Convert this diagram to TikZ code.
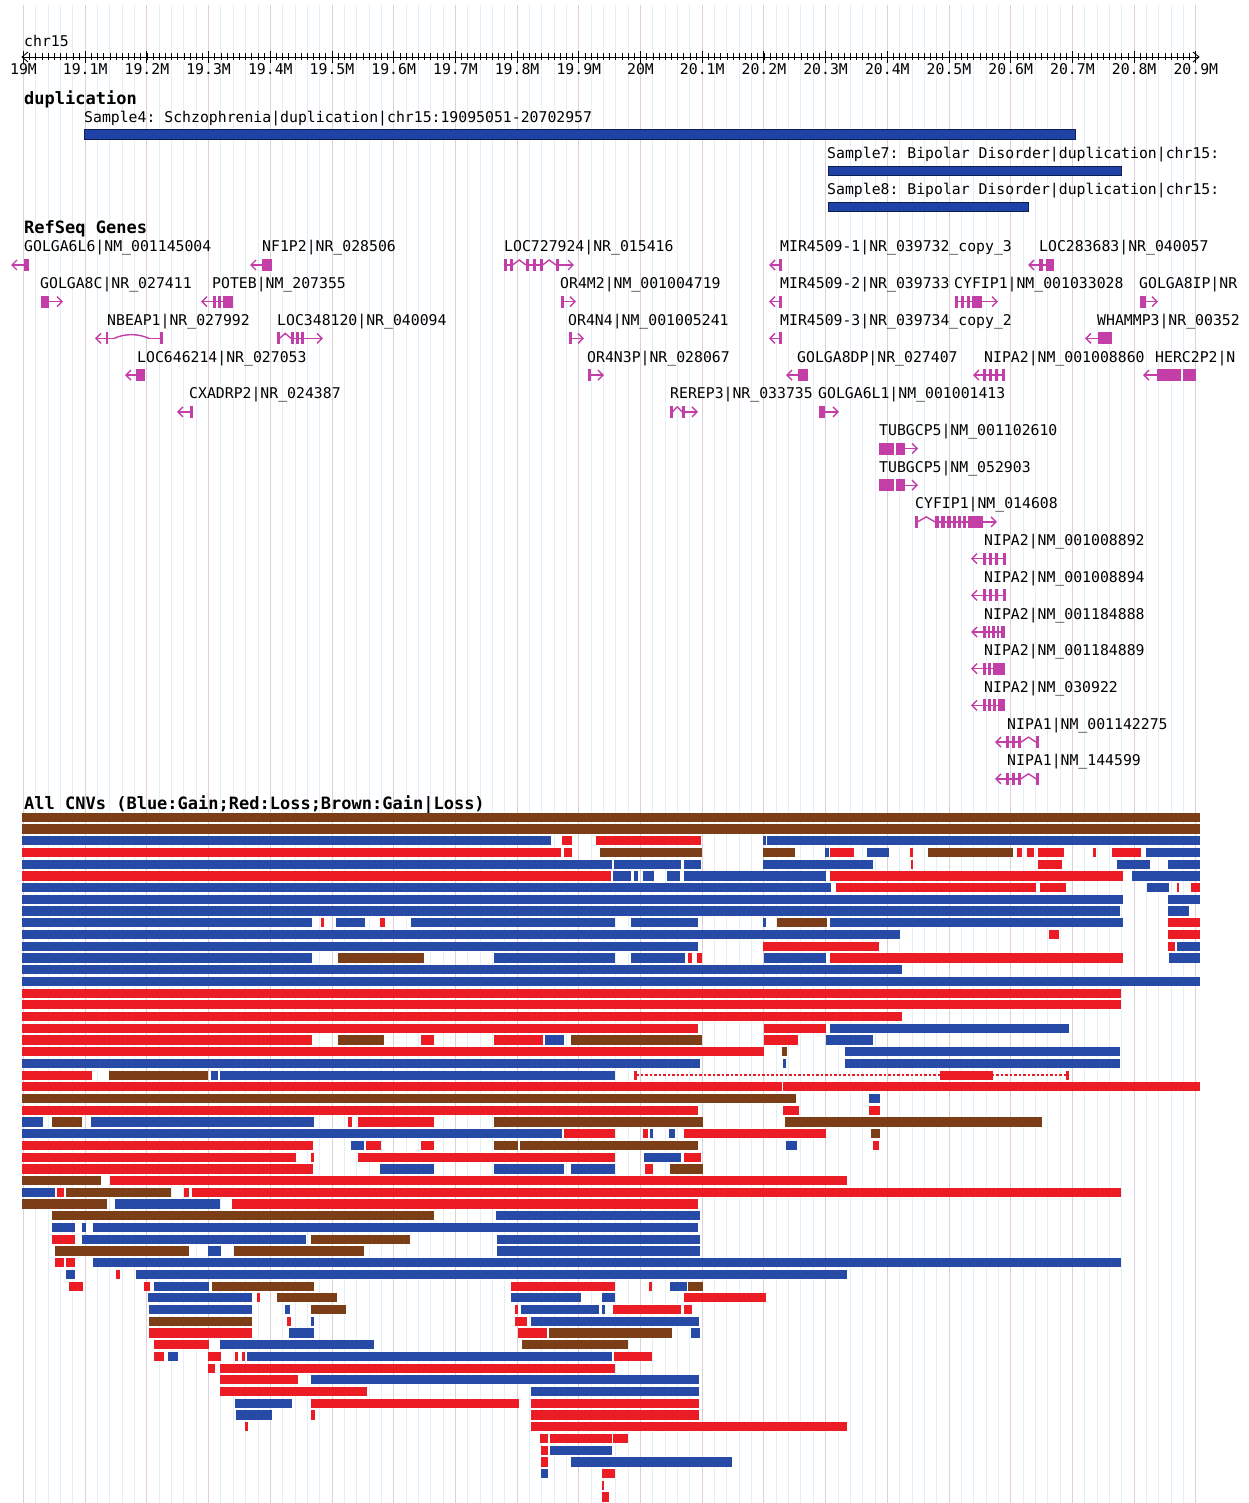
\documentclass[tikz,border=0pt]{standalone}
\usepackage{fontspec}
\newfontfamily\monof{DejaVu Sans Mono}
\newcommand{\gfont}{\monof\fontsize{14.8}{17}\selectfont}
\newcommand{\tfont}{\monof\bfseries\fontsize{17}{20}\selectfont}
\definecolor{cnvB}{RGB}{38,74,165}
\definecolor{cnvR}{RGB}{236,28,36}
\definecolor{cnvN}{RGB}{124,62,22}
\definecolor{dupB}{RGB}{30,66,165}
\definecolor{dupD}{RGB}{15,30,80}
\definecolor{gcol}{RGB}{196,62,168}
\definecolor{gridmaj}{RGB}{218,210,214}
\definecolor{gridmin}{RGB}{226,239,248}
\newcommand{\cnvrow}[2]{%
  \pgfmathsetmacro{\cy}{817.3+11.72*#1}%
  \foreach \xa/\xb/\cc in {#2}{\fill[fill=cnv\cc] (\xa,\cy-4.6) rectangle (\xb,\cy+4.6);}}
\newcommand{\grow}[1]{\pgfmathsetmacro{\gly}{252+36.7*#1}\pgfmathsetmacro{\gy}{265+36.7*#1}}
\newcommand{\gln}[2]{\draw[gline] (#1,\gy) -- (#2,\gy);}
\newcommand{\gex}[2]{\fill[gcol] (#1,\gy-6) rectangle (#2,\gy+6);}
\newcommand{\gla}[1]{\draw[gline] (#1+5,\gy-5) -- (#1,\gy) -- (#1+5,\gy+5);}
\newcommand{\gra}[1]{\draw[gline] (#1-5,\gy-5) -- (#1,\gy) -- (#1-5,\gy+5);}
\newcommand{\ghat}[2]{\draw[gline] (#1,\gy) -- ({(#1+#2)/2},\gy-5) -- (#2,\gy);}
\newcommand{\glab}[3]{\node[glabel] (#1) at (#2,\gly) {#3};}
\frenchspacing
\begin{document}
\begin{tikzpicture}[x=1pt,y=-1pt,
  gline/.style={gcol,line width=1.4pt},
  glabel/.style={anchor=base west,inner sep=0pt,font=\gfont},
  tlabel/.style={anchor=base west,inner sep=0pt,font=\tfont},
  rlabel/.style={anchor=base,inner sep=0pt,font=\gfont},
  rulerline/.style={black,line width=0.9pt},
  dupbar/.style={fill=dupB,draw=dupD,line width=1pt}]
\useasboundingbox (0,0) rectangle (1248,1503);
\fill[white] (0,0) rectangle (1248,1503);
% grid
\foreach \k in {0,...,95} {\draw[gridmin,line width=0.9pt] ({23.5+12.34*\k},5) -- ({23.5+12.34*\k},1503);}
\foreach \k in {0,...,19} {\draw[gridmaj,line width=1pt] ({23.5+61.7*\k},5) -- ({23.5+61.7*\k},1503);}
% ruler
\node[glabel] (chr) at (24,47) {chr15};
\draw[rulerline] (22,57) -- (1199,57);
\draw[rulerline] (28,52) -- (22,57) -- (28,62);
\draw[rulerline] (1193,52) -- (1199,57) -- (1193,62);
\foreach \k in {0,...,190} {\draw[rulerline,line width=0.7pt] ({23.5+6.17*\k},53.5) -- ({23.5+6.17*\k},60.5);}
\foreach \k in {0,...,19} {\draw[rulerline] ({23.5+61.7*\k},51) -- ({23.5+61.7*\k},63);}
\foreach \k/\t in {0/19M,1/19.1M,2/19.2M,3/19.3M,4/19.4M,5/19.5M,6/19.6M,7/19.7M,8/19.8M,9/19.9M,10/20M,11/20.1M,12/20.2M,13/20.3M,14/20.4M,15/20.5M,16/20.6M,17/20.7M,18/20.8M,19/20.9M}
  {\node[rlabel] (r\k) at ({23.5+61.7*\k},75) {\t};}
% duplication track
\node[tlabel] (dup) at (24,105) {duplication};
\node[glabel] (s4) at (84,123) {Sample4: Schzophrenia|duplication|chr15:19095051-20702957};
\fill[dupbar] (84,129.5) rectangle (1075,139.5);
\node[glabel] (s7) at (827,159) {Sample7: Bipolar Disorder|duplication|chr15:};
\fill[dupbar] (828,166.5) rectangle (1121,176);
\node[glabel] (s8) at (827,195) {Sample8: Bipolar Disorder|duplication|chr15:};
\fill[dupbar] (828,202.5) rectangle (1028,211.5);
% RefSeq genes
\node[tlabel] (ref) at (24,234) {RefSeq Genes};
\grow{0}
\glab{g1}{24}{GOLGA6L6|NM\_001145004}
\glab{g2}{262}{NF1P2|NR\_028506}
\glab{g3}{504}{LOC727924|NR\_015416}
\glab{g4}{780}{MIR4509-1|NR\_039732\_copy\_3}
\glab{g5}{1039}{LOC283683|NR\_040057}
\gla{12}\gln{12}{25}\gex{24}{29}
\gla{251}\gln{251}{262}\gex{262}{272}
\gex{504}{506.5}\gex{510}{512.5}\ghat{512.5}{526}\gex{526}{528.5}\gex{533}{535.5}\gex{540}{542.5}\ghat{542.5}{556}\gex{556}{558.5}
\gln{504}{512.5}\gln{526}{542.5}\gln{556}{573}\gra{573}
\gla{770}\gln{770}{781}\gex{779}{781.5}
\gla{1029}\gln{1029}{1054}\gex{1039}{1043}\gex{1046}{1054}
\grow{1}
\glab{g6}{40}{GOLGA8C|NR\_027411}
\glab{g7}{212}{POTEB|NM\_207355}
\glab{g8}{560}{OR4M2|NM\_001004719}
\glab{g9}{780}{MIR4509-2|NR\_039733}
\glab{g10}{954}{CYFIP1|NM\_001033028}
\glab{g11}{1139}{GOLGA8IP|NR}
\gex{41}{49}\gln{49}{62}\gra{62}
\gla{202}\gln{202}{233}\gex{213}{215.5}\gex{218}{220.5}\gex{223}{233}
\gex{561}{563.5}\gln{561}{575}\gra{575}
\gla{770}\gln{770}{781}\gex{779}{781.5}
\gex{955}{958}\gex{961}{964}\gex{967}{970}\gex{972}{982}\gln{955}{997}\gra{997}
\gex{1140}{1146}\gln{1146}{1157}\gra{1157}
\grow{2}
\glab{g12}{107}{NBEAP1|NR\_027992}
\glab{g13}{277}{LOC348120|NR\_040094}
\glab{g14}{568}{OR4N4|NM\_001005241}
\glab{g15}{780}{MIR4509-3|NR\_039734\_copy\_2}
\glab{g16}{1097}{WHAMMP3|NR\_00352}
\gla{96}\gln{96}{114}\gex{105.5}{108}
\draw[gline] (114,\gy) .. controls (125,\gy-5) and (138,\gy-5) .. (149,\gy);
\gln{149}{162}\gex{160}{162.5}
\gex{277}{279.5}\ghat{279.5}{291}\gex{291}{293.5}\gex{296}{298.5}\gex{301}{303.5}\gln{291}{322}\gra{322}
\gex{569}{571.5}\gln{569}{583}\gra{583}
\gla{770}\gln{770}{781}\gex{779}{781.5}
\gla{1086}\gln{1086}{1098}\gex{1098}{1112}
\grow{3}
\glab{g17}{137}{LOC646214|NR\_027053}
\glab{g18}{587}{OR4N3P|NR\_028067}
\glab{g19}{797}{GOLGA8DP|NR\_027407}
\glab{g20}{984}{NIPA2|NM\_001008860}
\glab{g21}{1155}{HERC2P2|N}
\gla{126}\gln{126}{136}\gex{136}{145}
\gex{588}{590.5}\gln{588}{603}\gra{603}
\gla{787}\gln{787}{798}\gex{798}{808}
\gla{974}\gln{974}{1004}\gex{983}{986}\gex{989}{992}\gex{995}{998}\gex{1002}{1005}
\gla{1144}\gln{1144}{1157}\gex{1157}{1181}\gex{1183}{1196}
\grow{4}
\glab{g22}{189}{CXADRP2|NR\_024387}
\glab{g23}{670}{REREP3|NR\_033735}
\glab{g24}{818}{GOLGA6L1|NM\_001001413}
\gla{178}\gln{178}{192}\gex{190}{192.5}
\gex{670}{672.5}\ghat{672.5}{682}\gex{682}{684.5}\gln{684}{697}\gra{697}
\gex{819}{825}\gln{825}{838}\gra{838}
\grow{5}
\glab{g25}{879}{TUBGCP5|NM\_001102610}
\gex{879}{894}\gex{896}{905}\gln{905}{917}\gra{917}
\grow{6}
\glab{g26}{879}{TUBGCP5|NM\_052903}
\gex{879}{894}\gex{896}{905}\gln{905}{917}\gra{917}
\grow{7}
\glab{g27}{915}{CYFIP1|NM\_014608}
\gex{915}{917.5}\ghat{917.5}{935}\gex{935}{939}\gex{941}{945}\gex{947}{951}\gex{953}{956}\gex{958}{961}\gex{963}{966}\gex{968}{983}\gln{935}{996}\gra{996}
\grow{8}
\glab{g28}{984}{NIPA2|NM\_001008892}
\gla{972}\gln{972}{1005}\gex{983}{986}\gex{989}{992}\gex{995}{998}\gex{1003}{1005.5}
\grow{9}
\glab{g29}{984}{NIPA2|NM\_001008894}
\gla{972}\gln{972}{1005}\gex{983}{986}\gex{989}{992}\gex{995}{998}\gex{1003}{1005.5}
\grow{10}
\glab{g30}{984}{NIPA2|NM\_001184888}
\gla{972}\gln{972}{1005}\gex{983}{985.5}\gex{987.5}{990}\gex{992}{994.5}\gex{996.5}{999}\gex{1001}{1005}
\grow{11}
\glab{g31}{984}{NIPA2|NM\_001184889}
\gla{972}\gln{972}{1005}\gex{983}{985.5}\gex{988}{990.5}\gex{993}{1005}
\grow{12}
\glab{g32}{984}{NIPA2|NM\_030922}
\gla{972}\gln{972}{1005}\gex{983}{985.5}\gex{988}{990.5}\gex{993}{996}\gex{998}{1005}
\grow{13}
\glab{g33}{1007}{NIPA1|NM\_001142275}
\gla{996}\gln{996}{1021}\gex{1006}{1009}\gex{1012}{1015}\gex{1018}{1021}\ghat{1021}{1036}\gex{1036}{1039}
\grow{14}
\glab{g34}{1007}{NIPA1|NM\_144599}
\gla{996}\gln{996}{1021}\gex{1006}{1009}\gex{1012}{1015}\gex{1018}{1021}\ghat{1021}{1036}\gex{1036}{1039}
% CNVs
\node[tlabel] (cnv) at (24,809) {All CNVs (Blue:Gain;Red:Loss;Brown:Gain|Loss)};
\cnvrow{0}{22/1200/N}
\cnvrow{1}{22/1200/N}
\cnvrow{2}{22/551/B,562/572/R,596/701/R,763/766/B,767/1200/B}
\cnvrow{3}{22/561/R,564/572/R,600/702/N,763/795/N,825/829/B,830/854/R,867/889/B,910/913/R,928/1013/N,1017/1022/R,1027/1034/R,1038/1064/R,1093/1096/R,1112/1141/R,1146/1200/B}
\cnvrow{4}{22/612/B,614/681/B,684/701/B,763/873/B,911/913/R,1038/1062/R,1117/1150/B,1168/1200/B}
\cnvrow{5}{22/611/R,613/631/B,634/638/B,643/654/B,667/680/B,684/826/B,830/1123/R,1132/1200/B}
\cnvrow{6}{22/831/B,836/1036/R,1040/1066/R,1147/1169/B,1177/1179/R,1191/1200/R}
\cnvrow{7}{22/1123/B,1168/1200/B}
\cnvrow{8}{22/1120/B,1168/1189/B}
\cnvrow{9}{22/312/B,321/324/R,336/365/B,380/385/R,411/615/B,631/698/B,763/766/B,777/827/N,830/1123/B,1168/1200/R}
\cnvrow{10}{22/900/B,1049/1059/R,1168/1200/R}
\cnvrow{11}{22/698/B,763/879/R,1168/1175/R,1177/1200/B}
\cnvrow{12}{22/312/B,338/424/N,494/615/B,631/685/B,688/692/R,697/702/R,764/826/B,830/1123/R,1169/1200/B}
\cnvrow{13}{22/902/B}
\cnvrow{14}{22/1200/B}
\cnvrow{15}{22/1121/R}
\cnvrow{16}{22/1121/R}
\cnvrow{17}{22/902/R}
\cnvrow{18}{22/698/R,764/826/R,830/1069/B}
\cnvrow{19}{22/312/R,338/384/N,421/434/R,494/543/R,545/564/B,571/702/N,764/798/R,826/873/B}
\cnvrow{20}{22/764/R,782/787/N,845/1120/B}
\cnvrow{21}{22/700/B,783/786/B,845/1120/B}
\cnvrow{22}{22/92/R,109/208/N,211/218/B,220/615/B}
\draw[cnvR,line width=1.5pt,dash pattern=on 2.5pt off 2pt] (636,1075.1) -- (1067,1075.1);
\fill[cnvR] (634,1070.5) rectangle (637,1079.7);
\fill[cnvR] (1066,1070.5) rectangle (1069,1079.7);
\fill[cnvR] (940,1070.5) rectangle (993,1079.7);
\cnvrow{23}{22/782/R,783/1200/R}
\cnvrow{24}{22/796/N,869/880/B}
\cnvrow{25}{22/698/R,783/799/R,869/880/R}
\cnvrow{26}{22/43/B,52/82/N,91/314/B,348/352/R,358/434/R,494/703/N,785/1042/N}
\cnvrow{27}{22/562/B,564/615/R,643/648/R,650/653/B,669/675/B,684/826/R,871/880/N}
\cnvrow{28}{22/313/R,351/364/B,366/381/R,421/434/R,494/518/N,520/698/N,786/797/B,873/879/R}
\cnvrow{29}{22/296/R,311/314/R,358/615/R,644/681/B,684/701/R}
\cnvrow{30}{22/313/R,380/434/B,494/564/B,571/615/B,645/653/R,670/703/N}
\cnvrow{31}{22/101/N,110/847/R}
\cnvrow{32}{22/55/B,57/64/R,66/171/N,184/189/R,192/1121/R}
\cnvrow{33}{22/107/N,115/220/B,232/698/R}
\cnvrow{34}{52/434/N,496/700/B}
\cnvrow{35}{52/75/B,82/86/B,93/698/B}
\cnvrow{36}{52/75/R,82/306/B,311/410/N,497/700/B}
\cnvrow{37}{55/189/N,208/221/B,234/364/N,497/700/B}
\cnvrow{38}{55/64/R,66/75/R,93/1121/B}
\cnvrow{39}{66/75/B,116/120/R,136/847/B}
\cnvrow{40}{69/83/R,144/150/R,154/209/B,212/314/N,511/615/R,649/652/R,670/687/B,688/703/N}
\cnvrow{41}{148/252/B,257/260/R,277/337/N,511/581/B,602/615/B,684/766/R}
\cnvrow{42}{149/252/B,285/290/B,311/346/N,515/518/R,521/599/B,602/605/B,613/681/R,684/692/R}
\cnvrow{43}{149/252/N,287/291/R,311/314/B,515/527/R,531/699/B}
\cnvrow{44}{149/252/R,289/314/B,518/547/R,549/672/N,691/700/B}
\cnvrow{45}{154/209/R,220/374/B,522/628/N}
\cnvrow{46}{154/164/R,168/178/B,208/221/R,235/238/R,242/245/R,247/612/B,614/652/R}
\cnvrow{47}{208/215/R,220/615/R}
\cnvrow{48}{220/298/R,311/699/B}
\cnvrow{49}{220/367/R,531/699/B}
\cnvrow{50}{235/292/B,311/519/R,531/699/R}
\cnvrow{51}{236/272/B,311/315/R,531/699/R}
\cnvrow{52}{245/248/R,531/847/R}
\cnvrow{53}{540/548/R,550/612/R,613/628/R}
\cnvrow{54}{541/548/R,550/612/B}
\cnvrow{55}{541/548/R,571/732/B}
\cnvrow{56}{541/548/B,602/615/R}
\cnvrow{57}{602/604/R}
\cnvrow{58}{602/609/R}
\end{tikzpicture}
\end{document}
